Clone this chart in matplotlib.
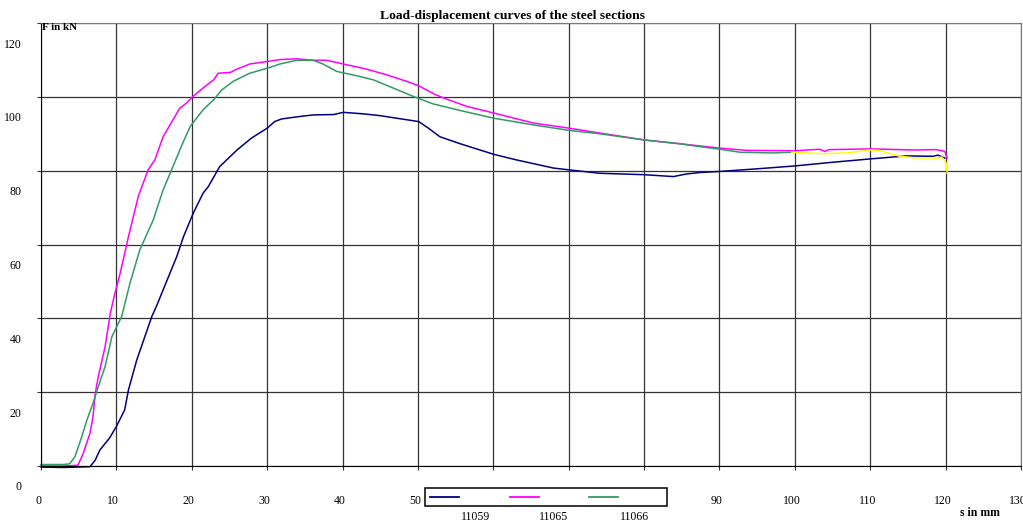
import matplotlib.pyplot as plt
from matplotlib.transforms import ScaledTranslation
from matplotlib.patches import Rectangle
from matplotlib.lines import Line2D

plt.rcParams['font.family'] = ['Liberation Serif', 'DejaVu Serif']

s_11059 = [0, 3, 6.5, 7.2, 7.8, 9.1, 10, 11.1, 11.6, 12.7, 14.7, 15.3, 18, 18.9, 20.2, 21.5, 22.2,
           23.7, 26, 27.9, 30, 31, 31.9, 34.4, 36.1, 38.8, 40.1, 42.7, 45, 47.2, 50.1, 51.4, 52.9,
           55.6, 60.1, 63.1, 68, 70.1, 74.1, 80.1, 83.9, 85.6, 87.4, 90.1, 95, 100.1, 104.6, 110.1,
           114.8, 118.3, 119, 119.9]
f_11059 = [-0.3, -0.4, -0.2, 1.6, 4.3, 7.6, 10.7, 15.2, 20.6, 28.7, 40.5, 43.2, 56.7, 62.1, 68.5,
           73.9, 75.7, 81.1, 85.6, 88.8, 91.5, 93.3, 94, 94.7, 95.1, 95.2, 95.8, 95.4, 94.9, 94.2,
           93.3, 91.5, 89.2, 87.3, 84.4, 82.9, 80.7, 80.2, 79.3, 78.9, 78.4, 79.1, 79.5, 79.8, 80.5,
           81.3, 82.2, 83.2, 84, 83.9, 84.2, 83.4]

s_11065 = [0, 3, 4.9, 5.6, 6.5, 6.9, 7.2, 7.6, 8.5, 9.2, 9.7, 10.5, 11.6, 12.9, 14.2, 15.1, 16.2,
           18.4, 19.3, 20.1, 21.5, 22.9, 23.5, 25.1, 26, 27.7, 30.1, 31.7, 33.9, 36.1, 37.9, 40.1,
           43.2, 45.8, 48.5, 50.1, 52.3, 53.8, 56.5, 60.1, 65.3, 70.1, 74.1, 80.1, 84.7, 87.4, 90.1,
           93.6, 100.1, 103.3, 104, 104.5, 110.1, 115.7, 118.8, 119.9, 120.1, 120.2]
f_11065 = [0, 0, 0.2, 3.4, 8.9, 13.4, 19.7, 24.2, 32.3, 41.4, 45.9, 52.2, 62.1, 73, 80.2, 82.9,
           89.2, 96.9, 98.3, 100, 102.4, 104.6, 106.4, 106.6, 107.5, 108.9, 109.6, 110.1, 110.3,
           109.9, 109.9, 108.9, 107.5, 106, 104.2, 103, 100.6, 99.4, 97.4, 95.6, 92.9, 91.5, 90.2,
           88.3, 87.3, 86.7, 86.1, 85.5, 85.4, 85.8, 85.2, 85.7, 85.9, 85.6, 85.7, 85.2, 83.9, 83.4]

s_11066 = [0, 3, 3.8, 4.5, 5.4, 6.1, 6.9, 7.6, 8.5, 9.4, 10.7, 11.8, 13.1, 14.9, 16.2, 17.5, 18.7,
           19.8, 21.5, 22.9, 24, 25.5, 27.7, 30.1, 31.7, 33.9, 36.1, 37.4, 39.2, 41.9, 44.1, 46.7,
           49.4, 52, 55.6, 60.1, 65.3, 70.1, 74.1, 80.1, 84.7, 87.4, 90.1, 92.7, 97.1, 99.6]
f_11066 = [0.4, 0.4, 0.6, 2.5, 7.9, 12.5, 17, 21.5, 26.9, 35, 40.5, 49.5, 58.5, 66.7, 74.8, 81.1,
           87, 92, 96.5, 99.2, 101.9, 104.2, 106.4, 107.8, 108.9, 109.9, 109.9, 108.9, 106.9, 105.7,
           104.6, 102.4, 100.1, 98.1, 96.3, 94.2, 92.4, 90.9, 90, 88.3, 87.3, 86.5, 85.8, 85, 84.8, 85]

# vierte Reihe (gelb), nur am Ende sichtbar
s_gelb = [99.6, 103.8, 106.8, 110.1, 111.3, 113.9, 115.7, 118.8, 119.5, 120.1, 120.2]
f_gelb = [85, 84.6, 84.8, 85.6, 85.4, 83.9, 83.5, 83.4, 83.7, 82, 79.3]

namen = ['11059', '11065', '11066']
farben = ['#000080', '#FF00FF', '#339966']
x_ticks = list(range(0, 131, 10))
y_ticks = list(range(0, 121, 20))

fig = plt.figure(figsize=(10.23, 5.24), dpi=100)
ax = fig.add_axes([41 / 1023, 58 / 524, 980 / 1023, 443 / 524])

ax.plot(s_11059, f_11059, color=farben[0], lw=1.1, clip_on=False)
ax.plot(s_11065, f_11065, color=farben[1], lw=1.1, clip_on=False)
ax.plot(s_11066, f_11066, color=farben[2], lw=1.1, clip_on=False)
ax.plot(s_gelb, f_gelb, color='#FFFF00', lw=1.1, clip_on=False)

ax.set_xlim(0, 130)
ax.set_ylim(0, 120)
ax.set_xticks(x_ticks)
ax.set_yticks(y_ticks)
ax.grid(True, color='#333333', lw=0.9)
ax.set_axisbelow(True)

for side in ['top', 'right']:
    ax.spines[side].set_color('#777777')
for side in ['left', 'bottom']:
    ax.spines[side].set_color('black')

ax.tick_params(axis='both', labelsize=8.5, length=3, color='#333333')
ax.tick_params(axis='x', pad=18)
ax.tick_params(axis='y', pad=11)

# Excel-typische Verschiebung der Beschriftungen
for lbl in ax.get_yticklabels():
    lbl.set_transform(lbl.get_transform() + ScaledTranslation(0, -0.20, fig.dpi_scale_trans))
for lbl in ax.get_xticklabels():
    lbl.set_transform(lbl.get_transform() + ScaledTranslation(-0.03, 0, fig.dpi_scale_trans))

fig.text(513 / 1023, 1 - 16 / 524, 'Load-displacement curves of the steel sections',
         ha='center', va='center', fontsize=9.7, fontweight='bold')
fig.text(42 / 1023, 1 - 27 / 524, 'F in kN', ha='left', va='center', fontsize=8, fontweight='bold')
fig.text(980 / 1023, 1 - 513 / 524, 's in mm', ha='center', va='center', fontsize=8.5, fontweight='bold')

# Legende wie im Original (verdeckt die Beschriftungen 60-80)
fig.patches.append(Rectangle((425 / 1023, 1 - 506 / 524), 242 / 1023, 18 / 524,
                             transform=fig.transFigure, facecolor='white', edgecolor='black',
                             lw=1.1, zorder=3))
leg_x = [430, 510, 589]
txt_x = [476, 554, 635]
for i in range(3):
    fig.lines.append(Line2D([leg_x[i] / 1023, (leg_x[i] + 29) / 1023], [1 - 497 / 524] * 2,
                            transform=fig.transFigure, color=farben[i], lw=1.3, zorder=4))
    fig.text(txt_x[i] / 1023, 1 - 517 / 524, namen[i], ha='center', va='center', fontsize=8.5)

fig.savefig('out.png', dpi=100)
